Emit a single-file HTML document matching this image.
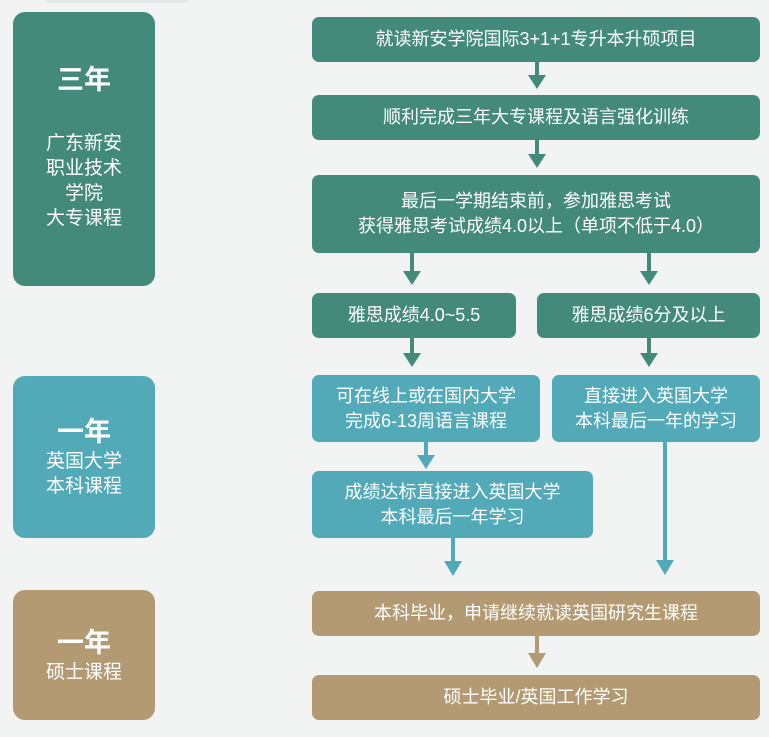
<!DOCTYPE html>
<html><head><meta charset="utf-8"><style>
body{margin:0;width:769px;height:737px;background:#f2f4f4;font-family:"Liberation Sans","Noto Sans CJK SC",sans-serif;position:relative;overflow:hidden}
.b{position:absolute;color:#fff;display:flex;align-items:center;justify-content:center;text-align:center;border-radius:7px;font-size:18px;line-height:25px}
.g{background:#438a7a}.bl{background:#52a9b8}.br{background:#b39a73}
.l{border-radius:12px;flex-direction:column;font-size:19px;line-height:25px}
.l b{font-size:27px;line-height:34px}
svg{position:absolute;left:0;top:0}
</style></head><body>
<div style="position:absolute;left:45px;top:-8px;width:145px;height:11px;background:#e4e7e7;border-radius:6px"></div>
<div class="b g l" style="left:13px;top:12px;width:142px;height:274px"><b style="margin-top:-4px">三年</b><div style="height:34px"></div>广东新安<br>职业技术<br>学院<br>大专课程</div>
<div class="b bl l" style="left:13px;top:376px;width:142px;height:162px"><b>一年</b>英国大学<br>本科课程</div>
<div class="b br l" style="left:13px;top:590px;width:142px;height:130px"><b>一年</b>硕士课程</div>
<div class="b g" style="left:312px;top:17px;width:448px;height:45px">就读新安学院国际3+1+1专升本升硕项目</div>
<div class="b g" style="left:312px;top:95px;width:448px;height:45px">顺利完成三年大专课程及语言强化训练</div>
<div class="b g" style="left:312px;top:175px;width:448px;height:78px">最后一学期结束前，参加雅思考试<br>获得雅思考试成绩4.0以上（单项不低于4.0）</div>
<div class="b g" style="left:312px;top:293px;width:204px;height:45px">雅思成绩4.0~5.5</div>
<div class="b g" style="left:537px;top:293px;width:223px;height:45px">雅思成绩6分及以上</div>
<div class="b bl" style="left:312px;top:375px;width:228px;height:67px">可在线上或在国内大学<br>完成6-13周语言课程</div>
<div class="b bl" style="left:552px;top:375px;width:208px;height:67px">直接进入英国大学<br>本科最后一年的学习</div>
<div class="b bl" style="left:312px;top:471px;width:281px;height:67px">成绩达标直接进入英国大学<br>本科最后一年学习</div>
<div class="b br" style="left:312px;top:591px;width:448px;height:45px">本科毕业，申请继续就读英国研究生课程</div>
<div class="b br" style="left:312px;top:675px;width:448px;height:45px">硕士毕业/英国工作学习</div>
<svg width="769" height="737">
<g stroke-width="4">
<line x1="537" y1="62" x2="537" y2="76" stroke="#438a7a"/><polygon points="528,75 546,75 537,89" fill="#438a7a"/>
<line x1="537" y1="140" x2="537" y2="155" stroke="#438a7a"/><polygon points="528,154 546,154 537,168" fill="#438a7a"/>
<line x1="412" y1="253" x2="412" y2="272" stroke="#438a7a"/><polygon points="403,271 421,271 412,285" fill="#438a7a"/>
<line x1="649" y1="253" x2="649" y2="272" stroke="#438a7a"/><polygon points="640,271 658,271 649,285" fill="#438a7a"/>
<line x1="412" y1="338" x2="412" y2="354" stroke="#438a7a"/><polygon points="403,353 421,353 412,367" fill="#438a7a"/>
<line x1="649" y1="338" x2="649" y2="354" stroke="#438a7a"/><polygon points="640,353 658,353 649,367" fill="#438a7a"/>
<line x1="426" y1="442" x2="426" y2="456" stroke="#52a9b8"/><polygon points="417,455 435,455 426,469" fill="#52a9b8"/>
<line x1="453" y1="538" x2="453" y2="562" stroke="#52a9b8"/><polygon points="444,561 462,561 453,576" fill="#52a9b8"/>
<line x1="665" y1="442" x2="665" y2="561" stroke="#52a9b8"/><polygon points="656,560 674,560 665,575" fill="#52a9b8"/>
<line x1="537" y1="636" x2="537" y2="654" stroke="#b39a73"/><polygon points="528,653 546,653 537,668" fill="#b39a73"/>
</g></svg>
</body></html>
